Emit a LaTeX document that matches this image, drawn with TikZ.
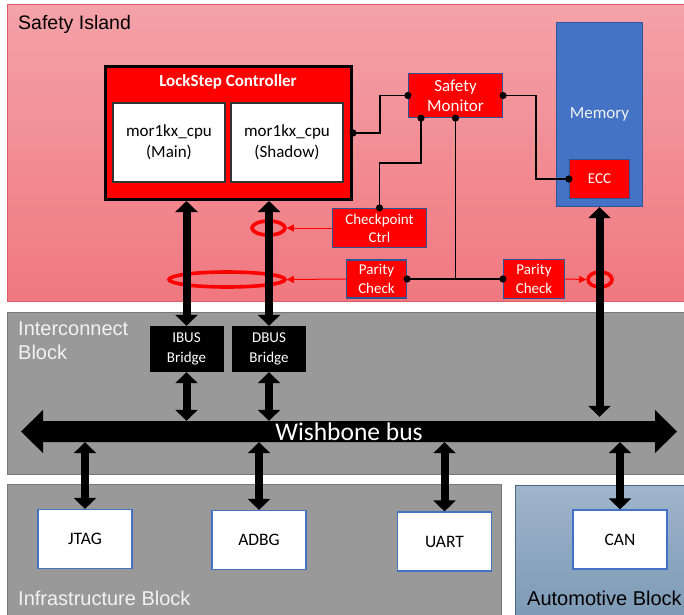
\documentclass[tikz,border=0pt]{standalone}
\usepackage{fontspec}
\setmainfont{Carlito}
\newfontfamily\arialf{Liberation Sans}
\usetikzlibrary{arrows.meta,shapes.geometric}

\definecolor{islandtop}{RGB}{244,162,168}
\definecolor{islandbot}{RGB}{240,120,128}
\definecolor{islandedge}{RGB}{222,90,105}
\definecolor{blockgray}{RGB}{153,153,153}
\definecolor{blockedge}{RGB}{120,120,120}
\definecolor{autotop}{RGB}{160,181,203}
\definecolor{autobot}{RGB}{124,153,181}
\definecolor{autoedge}{RGB}{75,105,135}
\definecolor{memblue}{RGB}{68,114,196}
\definecolor{memedge}{RGB}{47,85,151}
\definecolor{hotred}{RGB}{255,0,0}
\definecolor{periedge}{RGB}{68,114,196}
\definecolor{lighttext}{RGB}{242,242,242}

\tikzset{
  region/.style={line width=1pt},
  redbox/.style={draw=memedge, fill=hotred, line width=1.2pt, text=white, inner sep=0pt,
    align=center, font=\fontsize{15}{18.3}\selectfont},
  cpubox/.style={draw=black!80, fill=white, line width=1.2pt, inner sep=0pt, align=center,
    minimum width=112pt, minimum height=79pt, font=\fontsize{17}{20.5}\selectfont},
  bridgebox/.style={fill=black, text=white, inner sep=0pt, align=center,
    minimum width=74pt, minimum height=46pt, font=\fontsize{15}{19.5}\selectfont},
  periph/.style={draw=periedge, fill=white, line width=1.2pt, inner sep=0pt,
    minimum width=94pt, minimum height=59pt, font=\fontsize{17.5}{20}\selectfont},
  ring/.style={ellipse, draw=hotred, line width=3.6pt, inner sep=0pt},
  busarrow/.style={line width=8pt,
    {Triangle[width=22pt,length=11pt]}-{Triangle[width=22pt,length=11pt]}},
  sig/.style={line width=1.3pt},
  probe/.style={hotred, line width=1pt, -{Triangle[width=7pt,length=7pt]}},
  blocklabel/.style={inner sep=0pt, font=\arialf\fontsize{20}{24}\selectfont, align=left},
}

\begin{document}
\begin{tikzpicture}[x=1pt,y=-1pt]
\useasboundingbox (0,0) rectangle (684,614);
\clip (0,0) rectangle (684,614);

% ---------- block regions ----------
\draw[region, draw=islandedge, top color=islandtop, bottom color=islandbot]
  (7,4) rectangle (690,301);
\draw[region, draw=blockedge, fill=blockgray] (7,312) rectangle (690,474);
\draw[region, draw=blockedge, fill=blockgray] (7,484) rectangle (501,620);
\draw[region, draw=autoedge, top color=autotop, bottom color=autobot]
  (515,485) rectangle (690,620);

\node[blocklabel, anchor=base west, font=\arialf\fontsize{19.5}{23}\selectfont]
  (lblisland) at (18,29) {Safety Island};
\node[blocklabel, anchor=west, text=lighttext] (lblinter) at (18,341) {Interconnect\\Block};
\node[blocklabel, anchor=base west, text=lighttext] (lblinfra) at (18,605) {Infrastructure Block};
\node[blocklabel, anchor=base west] (lblauto) at (527,605) {Automotive Block};

% ---------- fault-injection rings ----------
\node[ring, minimum width=33pt, minimum height=14pt] (ring1) at (268.5,228) {};
\node[ring, minimum width=116pt, minimum height=15pt] (ring2) at (227,279.5) {};
\node[ring, minimum width=24pt, minimum height=15pt] (ring3) at (600,279.5) {};

% ---------- lockstep core ----------
\node[draw=black, line width=3pt, fill=hotred, minimum width=246pt, minimum height=133pt,
  inner sep=0pt] (lock) at (228.5,133) {};
\node[text=white, inner sep=0pt, font=\bfseries\fontsize{17}{20}\selectfont]
  (locktitle) at (228,82) {LockStep Controller};
\node[cpubox] (main) at (169,142.5) {mor1kx\_cpu\\(Main)};
\node[cpubox] (shadow) at (287,142.5) {mor1kx\_cpu\\(Shadow)};

% ---------- safety blocks ----------
\node[redbox, minimum width=94pt, minimum height=44pt, font=\fontsize{17}{20}\selectfont]
  (sm) at (455.5,95.5) {Safety\\Monitor};
\node[draw=memedge, fill=memblue, line width=1.2pt, minimum width=86pt, minimum height=184pt,
  inner sep=0pt, text=lighttext, font=\fontsize{17}{20}\selectfont] (mem) at (599.5,114.5) {Memory};
\node[redbox, minimum width=60pt, minimum height=39pt] (ecc) at (599.5,179) {ECC};
\node[redbox, minimum width=94pt, minimum height=39pt] (ckpt) at (379.5,228) {Checkpoint\\Ctrl};
\node[redbox, minimum width=60pt, minimum height=38pt] (p1) at (376.5,279) {Parity\\Check};
\node[redbox, minimum width=61pt, minimum height=39pt] (p2) at (534,279) {Parity\\Check};

% ---------- interconnect ----------
\node[bridgebox] (ibus) at (186.5,349) {IBUS\\Bridge};
\node[bridgebox] (dbus) at (269,349) {DBUS\\Bridge};

\fill (21,431.5) -- (43,410) -- (43,421) -- (655,421) -- (655,410) -- (677,431.5)
  -- (655,453) -- (655,442) -- (43,442) -- (43,453) -- cycle;
\node[text=white, inner sep=0pt, minimum width=612pt, minimum height=21pt,
  font=\fontsize{25.5}{30}\selectfont] (bus) at (349,431.5) {Wishbone bus};

% ---------- peripherals ----------
\node[periph] (jtag) at (85,539) {JTAG};
\node[periph] (adbg) at (259,540) {ADBG};
\node[periph] (uart) at (444.5,541.5) {UART};
\node[periph] (can) at (620,539.5) {CAN};

% ---------- bus connections ----------
\draw[busarrow] (lock.south -| ibus) -- (ibus.north);
\draw[busarrow] (lock.south -| dbus) -- (dbus.north);
\draw[busarrow] (ibus.south) -- (ibus.south |- bus.north);
\draw[busarrow] (dbus.south) -- (dbus.south |- bus.north);
\draw[busarrow] (mem.south) -- ([yshift=4pt]mem.south |- bus.north);
\draw[busarrow] (jtag.north) -- (jtag.north |- bus.south);
\draw[busarrow] (adbg.north) -- (adbg.north |- bus.south);
\draw[busarrow] (uart.north) -- (uart.north |- bus.south);
\draw[busarrow] (can.north) -- (can.north |- bus.south);

% ---------- monitor signals ----------
\coordinate (smtap) at ([xshift=-34.5pt]sm.south);
\draw[sig] (lock.east) -- ++(27,0) |- (sm.west);
\draw[sig] (sm.east) -- ++(33,0) |- (ecc.west);
\draw[sig] (smtap) -- ++(0,45) -| (ckpt.north);
\draw[sig] (sm.south) -- (sm.south |- p1.east);
\draw[sig] (p1.east) -- (p2.west);
\foreach \p in {lock.east, sm.west, sm.east, ecc.west, sm.south, smtap, ckpt.north, p1.east, p2.west}
  \fill (\p) circle[radius=3.6pt];

% ---------- checker probes ----------
\draw[probe] (ckpt.west) -- (ring1.east);
\draw[probe] (p1.west) -- (ring2.east);
\draw[probe] (p2.east) -- (ring3.west);
\end{tikzpicture}
\end{document}
